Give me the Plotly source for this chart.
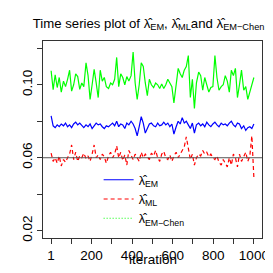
import plotly.graph_objects as go

n_points = 100
iteration = [round(1 + i * 999 / (n_points - 1)) for i in range(n_points)]

lambda_em_chen = [
    0.1077, 0.0973, 0.1055, 0.0985, 0.1040, 0.0960, 0.1020, 0.0990, 0.1030, 0.1080,
    0.0965, 0.1000, 0.1060, 0.1045, 0.0975, 0.1010, 0.0990, 0.1120, 0.1050, 0.0920,
    0.1000, 0.1085, 0.1010, 0.0930, 0.1080, 0.1020, 0.1040, 0.0990, 0.0980, 0.1010,
    0.1000, 0.1030, 0.1150, 0.0990, 0.1060, 0.1040, 0.1000, 0.1045, 0.1020, 0.1050,
    0.1180, 0.1010, 0.0920, 0.1000, 0.1120, 0.1100, 0.1010, 0.0940, 0.1030, 0.1000,
    0.0985, 0.1010, 0.1000, 0.0980, 0.1005, 0.0980, 0.1000, 0.1030, 0.1010, 0.0990,
    0.0900, 0.0990, 0.1090, 0.1060, 0.1040, 0.1080, 0.1100, 0.1160, 0.0930, 0.1030,
    0.0870, 0.1010, 0.1070, 0.1050, 0.0970, 0.1040, 0.1000, 0.0960, 0.0985, 0.0990,
    0.1160, 0.1040, 0.0970, 0.0990, 0.1000, 0.1050, 0.1020, 0.0960, 0.1080, 0.1050,
    0.1090, 0.0930, 0.1000, 0.1080, 0.0970, 0.0990, 0.0920, 0.0960, 0.1000, 0.1040,
]

lambda_em = [
    0.0830, 0.0775, 0.0765, 0.0780, 0.0770, 0.0785, 0.0775, 0.0790, 0.0770, 0.0780,
    0.0765, 0.0785, 0.0795, 0.0780, 0.0790, 0.0775, 0.0765, 0.0780, 0.0770, 0.0785,
    0.0760, 0.0775, 0.0790, 0.0780, 0.0785, 0.0770, 0.0760, 0.0775, 0.0770, 0.0780,
    0.0790, 0.0775, 0.0800, 0.0770, 0.0785, 0.0780, 0.0760, 0.0790, 0.0780, 0.0800,
    0.0785, 0.0760, 0.0720, 0.0770, 0.0825, 0.0790, 0.0735, 0.0760, 0.0785, 0.0790,
    0.0775, 0.0770, 0.0790, 0.0775, 0.0780, 0.0795, 0.0780, 0.0790, 0.0770, 0.0785,
    0.0730, 0.0770, 0.0800, 0.0785, 0.0820, 0.0790, 0.0800, 0.0780, 0.0760, 0.0790,
    0.0735, 0.0780, 0.0790, 0.0775, 0.0785, 0.0770, 0.0795, 0.0780, 0.0770, 0.0785,
    0.0795, 0.0780, 0.0770, 0.0790, 0.0780, 0.0785, 0.0775, 0.0790, 0.0800, 0.0780,
    0.0770, 0.0790, 0.0785, 0.0760, 0.0775, 0.0750, 0.0765, 0.0770, 0.0760, 0.0785,
]

lambda_ml = [
    0.0625, 0.0580, 0.0600, 0.0570, 0.0610, 0.0555, 0.0590, 0.0575, 0.0600, 0.0620,
    0.0670, 0.0590, 0.0630, 0.0580, 0.0610, 0.0600, 0.0625, 0.0595, 0.0610, 0.0580,
    0.0620, 0.0670, 0.0600, 0.0615, 0.0590, 0.0620, 0.0605, 0.0570, 0.0610, 0.0630,
    0.0600, 0.0620, 0.0665, 0.0600, 0.0630, 0.0585, 0.0615, 0.0560, 0.0640, 0.0610,
    0.0590, 0.0620, 0.0600, 0.0580, 0.0630, 0.0600, 0.0620, 0.0605, 0.0590, 0.0625,
    0.0610, 0.0640, 0.0600, 0.0580, 0.0620, 0.0635, 0.0600, 0.0590, 0.0615, 0.0580,
    0.0610, 0.0630, 0.0600, 0.0620, 0.0640, 0.0660, 0.0715, 0.0640, 0.0590, 0.0620,
    0.0560, 0.0600, 0.0620, 0.0610, 0.0640, 0.0620, 0.0630, 0.0605, 0.0620, 0.0600,
    0.0590, 0.0610, 0.0575, 0.0560, 0.0590, 0.0570, 0.0550, 0.0600, 0.0560, 0.0620,
    0.0600, 0.0550, 0.0620, 0.0580, 0.0610, 0.0630, 0.0580, 0.0610, 0.0720, 0.0490,
]

true_lambda = 0.06

x_tick_vals = [1, 100, 200, 300, 400, 500, 600, 700, 800, 900, 1000]
x_tick_text = ["1", "", "200", "", "400", "", "600", "", "800", "", "1000"]
y_tick_vals = [0.02, 0.04, 0.06, 0.08, 0.10, 0.12]
y_tick_text = ["0.02", "", "0.06", "", "0.10", ""]

HAT = "\u03bb\u0302"
FONT = "Liberation Sans, Arial, sans-serif"

fig = go.Figure()
fig.add_trace(go.Scatter(x=iteration, y=lambda_em_chen, mode="lines",
                         line=dict(color="#00ff00", width=1.2), showlegend=False))
fig.add_trace(go.Scatter(x=iteration, y=lambda_em, mode="lines",
                         line=dict(color="#0000ff", width=1.2),
                         name=HAT + "<sub>EM</sub>"))
fig.add_trace(go.Scatter(x=iteration, y=lambda_ml, mode="lines",
                         line=dict(color="#ff0000", width=1.2, dash="4px,3px"),
                         name=HAT + "<sub>ML</sub>"))
fig.add_trace(go.Scatter(x=[None], y=[None], mode="lines",
                         line=dict(color="#00ff00", width=1.2, dash="1px,2px"),
                         name=HAT + "<sub>EM\u2212Chen</sub>"))

fig.add_hline(y=true_lambda, line=dict(color="#555555", width=1))

fig.update_layout(
    width=273, height=273,
    margin=dict(l=34, r=17, t=33, b=43),
    paper_bgcolor="white", plot_bgcolor="white",
    font=dict(family=FONT, size=13, color="black"),
    title=dict(text="Time series plot of " + HAT + "<sub>EM</sub>, " + HAT + "<sub>ML</sub>and "
               + HAT + "<sub>EM\u2212Chen</sub>",
               x=0.515, xanchor="center", y=0.945, yanchor="middle",
               font=dict(size=13.2)),
    legend=dict(x=0.254, y=0.37, xanchor="left", yanchor="top",
                bgcolor="rgba(0,0,0,0)", borderwidth=0,
                font=dict(size=12.5), tracegroupgap=0),
    showlegend=True,
)

fig.update_xaxes(range=[-39, 1040], tickvals=x_tick_vals, ticktext=x_tick_text,
                 ticks="outside", ticklen=5, tickcolor="#333", showgrid=False,
                 zeroline=False, showline=True, linecolor="#333", linewidth=1,
                 mirror=True, tickfont=dict(size=13.5))
fig.update_yaxes(range=[0.016, 0.124], tickvals=y_tick_vals, ticktext=y_tick_text,
                 ticks="outside", ticklen=5, tickcolor="#333", showgrid=False,
                 zeroline=False, showline=True, linecolor="#333", linewidth=1,
                 mirror=True, tickangle=-90, tickfont=dict(size=13.5))

fig.add_annotation(text="iteration", xref="paper", yref="paper", x=0.5, y=-0.108,
                   xanchor="center", yanchor="middle", showarrow=False,
                   font=dict(size=13.5))

fig.write_html("out.html")
